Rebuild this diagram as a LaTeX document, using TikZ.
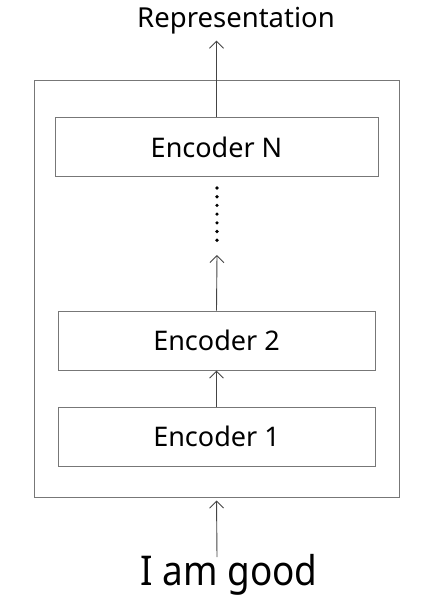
\documentclass[tikz,border=0pt]{standalone}
\usepackage{fontspec}
\setmainfont{Noto Sans}
\newfontfamily\inputfont[FakeStretch=0.9]{Noto Sans}
\usetikzlibrary{arrows.meta}
\definecolor{boxgray}{HTML}{777777}
\definecolor{arrgray}{HTML}{444444}
\tikzset{
  enc/.style={draw=boxgray, line width=1pt, minimum height=59pt, font=\fontsize{27}{30}\selectfont},
  arr/.style={draw=arrgray, line width=0.9pt, -{Straight Barb[length=7pt,width=14pt]}},
}
\begin{document}
\begin{tikzpicture}[x=1pt,y=-1pt]
\useasboundingbox (0,0) rectangle (431,603);
\node[draw=boxgray, line width=1pt, minimum width=365pt, minimum height=417pt, inner sep=0pt] (stack) at (216.5,288.5) {};
\node[enc, minimum width=323pt] (encN) at (216.5,147) {Encoder N};
\node[enc, minimum width=317pt] (enctwo) at (216.5,340.5) {Encoder 2};
\node[enc, minimum width=317pt] (encone) at (216.5,436.5) {Encoder 1};
\node[anchor=base, font=\fontsize{27.5}{30}\selectfont] (rep) at (236,27) {Representation};
\node[anchor=base, font=\inputfont\fontsize{41}{44}\selectfont] (input) at (229,585) {I am good};
\coordinate (dotsend) at (217,255);
\coordinate (intop) at (217,557);
%\draw[dotted] (217,188) -- (217,240);
\foreach \i in {0,...,6} {
\fill[black] (217,188+8.7*\i) circle (1.8pt);
}
\draw[arr, shorten >=3.5pt] (encN.north) -- (encN.north |- rep.south);
\draw[arr] (enctwo.north) -- (dotsend);
\draw[arr] (encone.north) -- (enctwo.south);
\draw[arr, shorten >=3pt] (intop) -- (stack.south);
\end{tikzpicture}
\end{document}
